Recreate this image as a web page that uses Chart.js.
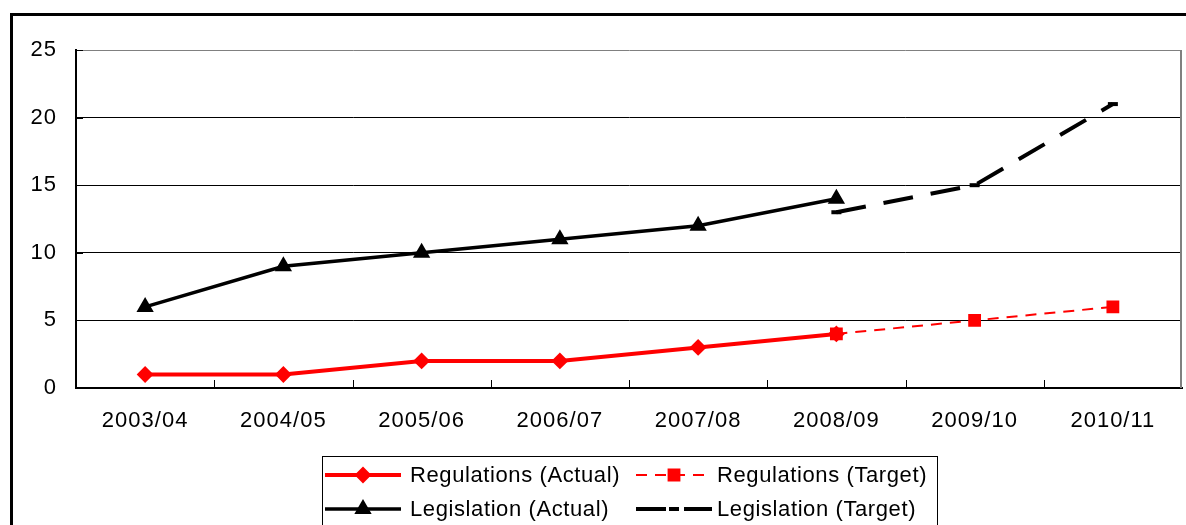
<!DOCTYPE html>
<html>
<head>
<meta charset="utf-8">
<script src="https://cdn.jsdelivr.net/npm/chart.js@4/dist/chart.umd.min.js"></script>
<style>
html,body{margin:0;padding:0;background:#fff;}
canvas{display:block;}
</style>
</head>
<body>
<canvas id="c" width="1186" height="525"></canvas>
<script>
const categories = ["2003/04","2004/05","2005/06","2006/07","2007/08","2008/09","2009/10","2010/11"];
const regulationsActual = [1, 1, 2, 2, 3, 4, null, null];
const regulationsTarget = [null, null, null, null, null, 4, 5, 6];
const legislationActual = [6, 9, 10, 11, 12, 14, null, null];
const legislationTarget = [null, null, null, null, null, 13, 15, 21];
const yTicks = [0, 5, 10, 15, 20, 25];
const seriesLabels = ["Regulations (Actual)", "Regulations (Target)", "Legislation (Actual)", "Legislation (Target)"];

const FONT = "Liberation Sans, Arial, sans-serif";

const framePlugin = {
  id: 'frame',
  beforeDraw(chart) {
    const ctx = chart.ctx;
    ctx.save();
    ctx.fillStyle = '#fff';
    ctx.fillRect(0, 0, chart.width, chart.height);
    ctx.strokeStyle = '#000';
    ctx.lineWidth = 3;
    ctx.strokeRect(11.5, 14.5, 1300, 700);
    ctx.restore();
    ctx.letterSpacing = '1px';
  },
  afterDraw(chart) {
    const ctx = chart.ctx;
    const a = chart.chartArea;
    const ys = chart.scales.y;
    ctx.save();
    // right border
    ctx.strokeStyle = '#808080';
    ctx.lineWidth = 2;
    ctx.beginPath();
    ctx.moveTo(a.right - 1, a.top); ctx.lineTo(a.right - 1, a.bottom);
    ctx.stroke();
    // x inward ticks between categories
    ctx.strokeStyle = '#000';
    ctx.lineWidth = 1;
    const step = (a.right - a.left) / categories.length;
    for (let k = 1; k < categories.length; k++) {
      const x = Math.round(a.left + step * k) + 0.5;
      ctx.beginPath(); ctx.moveTo(x, a.bottom); ctx.lineTo(x, a.bottom - 8); ctx.stroke();
    }
    // y inward ticks
    yTicks.forEach(v => {
      const y = Math.round(ys.getPixelForValue(v)) + 0.5;
      ctx.beginPath(); ctx.moveTo(a.left, y); ctx.lineTo(a.left + 7, y); ctx.stroke();
    });
    // legend
    const bx = 322.5, by = 456.5;
    ctx.strokeStyle = '#000';
    ctx.lineWidth = 1;
    ctx.strokeRect(bx, by, 615, 120);
    const cols = [325, 636];
    const textX = [410, 717];
    const rows = [475, 509];
    ctx.font = '22px ' + FONT;
    ctx.letterSpacing = '0.6px';
    ctx.textBaseline = 'middle';
    ctx.textAlign = 'left';
    [0, 1, 2, 3].forEach((di, i) => {
      const ds = chart.data.datasets[di];
      const x0 = cols[i % 2], y = rows[Math.floor(i / 2)];
      const w = 76;
      ctx.save();
      ctx.strokeStyle = ds.borderColor;
      ctx.lineWidth = ds.borderWidth;
      ctx.setLineDash(ds.borderDash || []);
      ctx.beginPath(); ctx.moveTo(x0, y); ctx.lineTo(x0 + w, y); ctx.stroke();
      ctx.setLineDash([]);
      if (Chart.helpers && Chart.helpers.drawPoint) {
        ctx.fillStyle = ds.pointBackgroundColor;
        ctx.strokeStyle = ds.pointBorderColor;
        ctx.lineWidth = ds.pointBorderWidth;
        Chart.helpers.drawPoint(ctx, {pointStyle: ds.pointStyle, radius: ds.pointRadius, rotation: 0, borderWidth: ds.pointBorderWidth}, x0 + w / 2, y);
      }
      ctx.restore();
      ctx.fillStyle = '#000';
      ctx.fillText(ds.label, textX[i % 2], y + 1);
    });
    ctx.restore();
  }
};

new Chart(document.getElementById('c'), {
  type: 'line',
  data: {
    labels: categories,
    datasets: [
      {
        label: seriesLabels[0], data: regulationsActual,
        borderColor: '#ff0000', backgroundColor: '#ff0000', borderWidth: 4,
        pointStyle: 'rectRot', pointRadius: 7, pointBorderWidth: 2,
        pointBackgroundColor: '#ff0000', pointBorderColor: '#ff0000',
        tension: 0, spanGaps: false
      },
      {
        label: seriesLabels[1], data: regulationsTarget,
        borderColor: '#ff0000', backgroundColor: '#ff0000', borderWidth: 2, borderDash: [11, 8],
        pointStyle: 'rect', pointRadius: 8, pointBorderWidth: 1.5,
        pointBackgroundColor: '#ff0000', pointBorderColor: '#ff0000',
        tension: 0, spanGaps: false
      },
      {
        label: seriesLabels[2], data: legislationActual,
        borderColor: '#000000', backgroundColor: '#000000', borderWidth: 3.5,
        pointStyle: 'triangle', pointRadius: 8, pointBorderWidth: 2,
        pointBackgroundColor: '#000000', pointBorderColor: '#000000',
        tension: 0, spanGaps: false
      },
      {
        label: seriesLabels[3], data: legislationTarget,
        borderColor: '#000000', backgroundColor: '#000000', borderWidth: 4, borderDash: [30, 18],
        pointStyle: 'line', pointRadius: 5, pointBorderWidth: 4,
        pointBackgroundColor: '#000000', pointBorderColor: '#000000',
        tension: 0, spanGaps: false
      }
    ]
  },
  options: {
    responsive: false,
    animation: false,
    events: [],
    layout: { autoPadding: false, padding: { top: 50, right: 4, left: 0, bottom: 0 } },
    plugins: { legend: { display: false }, tooltip: { enabled: false } },
    scales: {
      x: {
        offset: true,
        grid: { display: false, drawTicks: false },
        border: { color: '#000', width: 2 },
        ticks: { color: '#000', font: { family: FONT, size: 22 }, padding: 20, maxRotation: 0, autoSkip: false },
        afterFit(s) { s.height = 137; }
      },
      y: {
        min: 0, max: 25,
        afterBuildTicks(s) { s.ticks = yTicks.map(v => ({ value: v })); },
        grid: {
          drawTicks: false,
          color: ctx => (ctx.tick && ctx.tick.value === 25) ? '#808080' : '#000',
          lineWidth: 1
        },
        border: { color: '#000', width: 2 },
        ticks: { color: '#000', font: { family: FONT, size: 22 }, padding: 19 },
        afterFit(s) { s.width = 76; }
      }
    }
  },
  plugins: [framePlugin]
});
</script>
</body>
</html>
